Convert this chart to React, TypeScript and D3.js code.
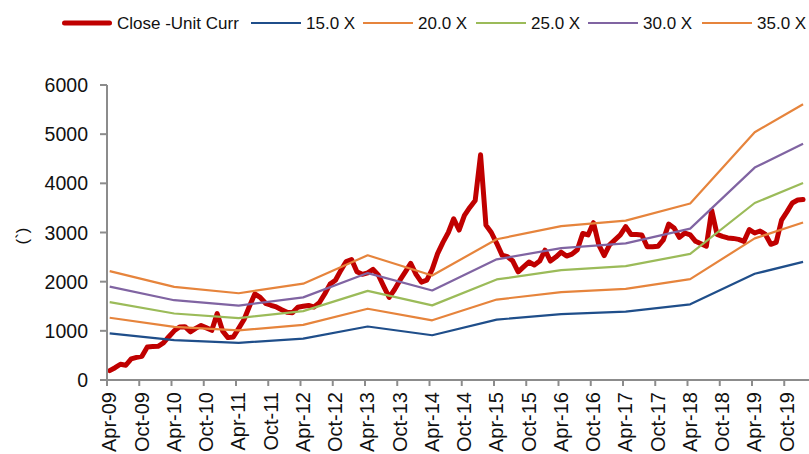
import React from 'react';
import * as d3 from 'd3';

// ---- data ----
const tickLabels = [
  'Apr-09', 'Oct-09', 'Apr-10', 'Oct-10', 'Apr-11', 'Oct-11', 'Apr-12', 'Oct-12',
  'Apr-13', 'Oct-13', 'Apr-14', 'Oct-14', 'Apr-15', 'Oct-15', 'Apr-16', 'Oct-16',
  'Apr-17', 'Oct-17', 'Apr-18', 'Oct-18', 'Apr-19', 'Oct-19',
];

// monthly close, Apr-09 .. Jan-20
const closePrice = [
  190, 250, 320, 300, 430, 460, 482, 672, 680, 686, 753, 880,
  1000, 1078, 1085, 980, 1050, 1110, 1060, 1010, 1350, 1000, 862, 875,
  1050, 1230, 1500, 1750, 1680, 1560, 1520, 1485, 1430, 1380, 1370, 1480,
  1500, 1515, 1485, 1570, 1750, 1950, 2030, 2230, 2410, 2450, 2200, 2150,
  2180, 2250, 2130, 1900, 1680, 1840, 2030, 2200, 2370, 2150, 1990, 2030,
  2250, 2570, 2800, 3000, 3280, 3050, 3350, 3510, 3650, 4580, 3150, 3000,
  2780, 2540, 2510, 2420, 2200, 2300, 2400, 2340, 2420, 2640, 2420, 2500,
  2600, 2520, 2560, 2650, 2980, 2950, 3200, 2750, 2530, 2750, 2850, 2950,
  3120, 2960, 2960, 2950, 2710, 2710, 2720, 2850, 3170, 3090, 2900, 2990,
  2950, 2820, 2770, 2720, 3450, 2960, 2920, 2890, 2880, 2860, 2820, 3060,
  2990, 3030, 2960, 2760, 2800, 3250, 3420, 3600, 3660, 3670,
];

// EPS at the yearly knots (month index from Apr-09)
const epsKnotIndex = [0, 12, 24, 36, 48, 60, 72, 84, 96, 108, 120, 129];
const epsValues = [63.3, 54.1, 50.4, 56.0, 72.5, 60.7, 81.8, 89.4, 92.6, 102.6, 144.0, 160.2];

const bandMultiples = [15, 20, 25, 30, 35];
const bandNames = ['15.0 X', '20.0 X', '25.0 X', '30.0 X', '35.0 X'];
const closeName = 'Close -Unit Curr';
const yAxisTitle = '(`)';

const closeColor = '#C00000';
const bandColors = ['#1F4E8A', '#E6843C', '#9BBB59', '#8064A2', '#E6843C'];

export default function App() {
  const W = 809;
  const H = 454;
  const x = d3.scaleLinear().domain([0, 130]).range([107, 805.75]);
  const y = d3.scaleLinear().domain([0, 6000]).range([380, 85]);
  const yTicks = d3.range(0, 6001, 1000);
  const font = '"Liberation Sans", Arial, sans-serif';
  const axisColor = '#8C8C8C';

  const closeLine = d3
    .line<number>()
    .x((_, i) => x(i + 0.5))
    .y((d) => y(d));

  const bandLine = (mult: number) =>
    d3
      .line<number>()
      .x((_, i) => x(epsKnotIndex[i] + 0.5))
      .y((d) => y(d * mult))(epsValues) || '';

  const legendItems = [
    { name: closeName, color: closeColor, width: 5, x: 62 },
    ...bandNames.map((n, i) => ({
      name: n,
      color: bandColors[i],
      width: 2.2,
      x: [251, 363, 476, 588, 702][i],
    })),
  ];

  return (
    <svg
      width={W}
      height={H}
      style={{ position: 'absolute', left: 0, top: 0, background: '#fff' }}
      fontFamily={font}
    >
      {/* legend */}
      {legendItems.map((it) => (
        <g key={it.name}>
          <line
            x1={it.x + (it.width > 3 ? 2.5 : 0)}
            x2={it.x + 50 - (it.width > 3 ? 2.5 : 0)}
            y1={23}
            y2={23}
            stroke={it.color}
            strokeWidth={it.width}
            strokeLinecap={it.width > 3 ? 'round' : 'butt'}
          />
          <text x={it.x + 55} y={29} fontSize={17} fill="#111">
            {it.name}
          </text>
        </g>
      ))}

      {/* close series (drawn first, bands on top) */}
      <path
        d={closeLine(closePrice) || ''}
        fill="none"
        stroke={closeColor}
        strokeWidth={5}
        strokeLinejoin="round"
        strokeLinecap="round"
      />
      {bandMultiples.map((m, i) => (
        <path
          key={m}
          d={bandLine(m)}
          fill="none"
          stroke={bandColors[i]}
          strokeWidth={2.2}
          strokeLinejoin="round"
        />
      ))}

      {/* y axis */}
      <line x1={107} x2={107} y1={y(6000)} y2={y(0)} stroke={axisColor} strokeWidth={2} />
      {yTicks.map((t) => (
        <g key={t}>
          <line x1={100} x2={107} y1={y(t)} y2={y(t)} stroke={axisColor} strokeWidth={2} />
          <text
            x={88}
            y={y(t)}
            dy="0.36em"
            textAnchor="end"
            fontSize={19.5}
            fill="#111"
          >
            {t}
          </text>
        </g>
      ))}
      <text
        transform={`translate(22.5,236) rotate(-90)`}
        textAnchor="middle"
        dy="0.3em"
        fontSize={17}
        fill="#111"
      >
        {yAxisTitle}
      </text>

      {/* x axis */}
      <line x1={106} x2={809} y1={380} y2={380} stroke={axisColor} strokeWidth={2} />
      {tickLabels.map((lab, k) => {
        const tx = x(k * 6);
        return (
          <g key={lab}>
            <line x1={tx} x2={tx} y1={380} y2={386} stroke={axisColor} strokeWidth={2} />
            <text
              transform={`translate(${tx},392) rotate(-90)`}
              textAnchor="end"
              dy="0.47em"
              fontSize={20}
              fill="#111"
            >
              {lab}
            </text>
          </g>
        );
      })}
    </svg>
  );
}
